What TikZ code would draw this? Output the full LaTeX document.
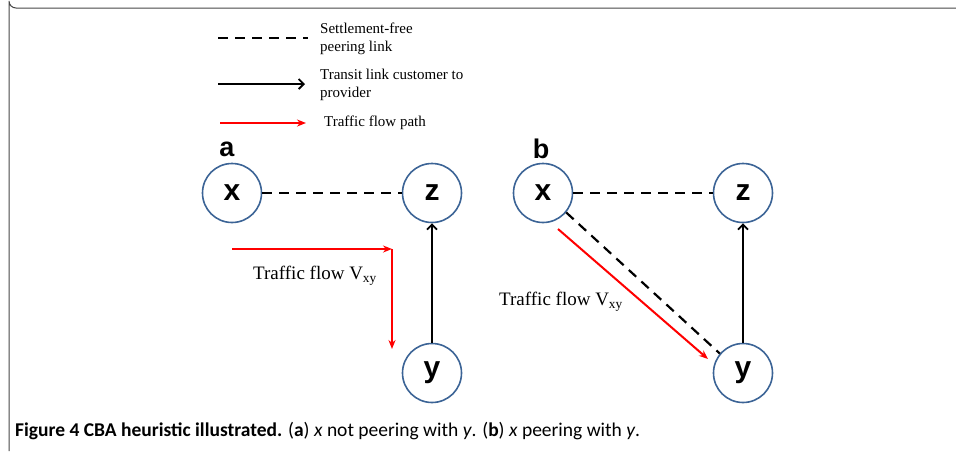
\documentclass[tikz,border=0pt]{standalone}
\usepackage{fontspec}
\setmainfont{Liberation Serif}
\setsansfont{Liberation Sans}
\newfontfamily\capfont{Carlito}
\usetikzlibrary{arrows.meta}
\definecolor{nodeblue}{RGB}{60,100,150}
\definecolor{frameg}{RGB}{70,70,70}
\tikzset{
  asnode/.style={circle, draw=nodeblue, line width=1.6pt, minimum size=59pt, inner sep=0pt,
    font=\sffamily\bfseries\fontsize{30}{30}\selectfont},
  peer/.style={dashed, dash pattern=on 10pt off 7pt, line width=2.2pt, black},
  transit/.style={line width=2.2pt, black, -{Straight Barb[length=5pt,width=10pt,line width=1.8pt]}},
  flow/.style={line width=2pt, red, -{Stealth[length=9pt,width=7pt]}},
  legtext/.style={anchor=west, align=left, font=\fontsize{15}{18}\selectfont, inner sep=0pt},
  flowtext/.style={font=\fontsize{19}{19}\selectfont, inner sep=0pt},
  panel/.style={font=\sffamily\bfseries\fontsize{27}{27}\selectfont, inner sep=0pt},
}
\begin{document}
\begin{tikzpicture}[x=1pt,y=-1pt]
\useasboundingbox (0,0) rectangle (956,451);
% frame
\draw[frameg, line width=1pt] (956,8) -- (16,8) arc[start angle=90, end angle=180, radius=7] -- (9,451);
% legend
\coordinate (l1a) at (218,38); \coordinate (l1b) at (308,38);
\coordinate (l2a) at (218,84); \coordinate (l2b) at (305,84);
\coordinate (l3a) at (220,123); \coordinate (l3b) at (306,123);
\draw[peer] (l1a) -- (l1b);
\draw[transit] (l2a) -- (l2b);
\draw[flow, line width=1.8pt] (l3a) -- (l3b);
\node[legtext] (t1) at (320,39) {Settlement-free\\peering link};
\node[legtext] (t2) at (320,85) {Transit link customer to\\provider};
\node[legtext] (t3) at (324,123) {Traffic flow path};
% panel a
\node[panel] (la) at (227,149) {a};
\node[asnode] (ax) at (232,193) {x};
\node[asnode] (az) at (432,193) {z};
\node[asnode] (ay) at (432,373) {y};
\draw[peer] (ax) -- (az);
\draw[transit] (ay) -- (az);
\coordinate (ar0) at (232,249);
\coordinate (ar1) at (392,249);
\coordinate (ar2) at (392,349);
\draw[flow] (ar0) -- (ar1);
\draw[flow] (ar1) -- (ar2);
\node[flowtext] (fa) at (315,276) {Traffic flow V\textsubscript{xy}};
% panel b
\node[panel] (lb) at (541,149) {b};
\node[asnode] (bx) at (543,193) {x};
\node[asnode] (bz) at (743,193) {z};
\node[asnode] (by) at (743,373) {y};
\draw[peer] (bx) -- (bz);
\draw[transit] (by) -- (bz);
\draw[peer] (bx.-40) -- (by.140);
\coordinate (br0) at (558,229);
\coordinate (br1) at (708,359);
\draw[flow] (br0) -- (br1);
\node[flowtext] (fb) at (561,302) {Traffic flow V\textsubscript{xy}};
% caption
\node[anchor=base west, inner sep=0pt, font=\capfont\fontsize{19.5}{19.5}\selectfont] (cap) at (15,436)
  {\textbf{Figure 4 CBA heuristic illustrated.} (\textbf{a}) \textit{x} not peering with \textit{y}. (\textbf{b}) \textit{x} peering with \textit{y}.};
\end{tikzpicture}
\end{document}
